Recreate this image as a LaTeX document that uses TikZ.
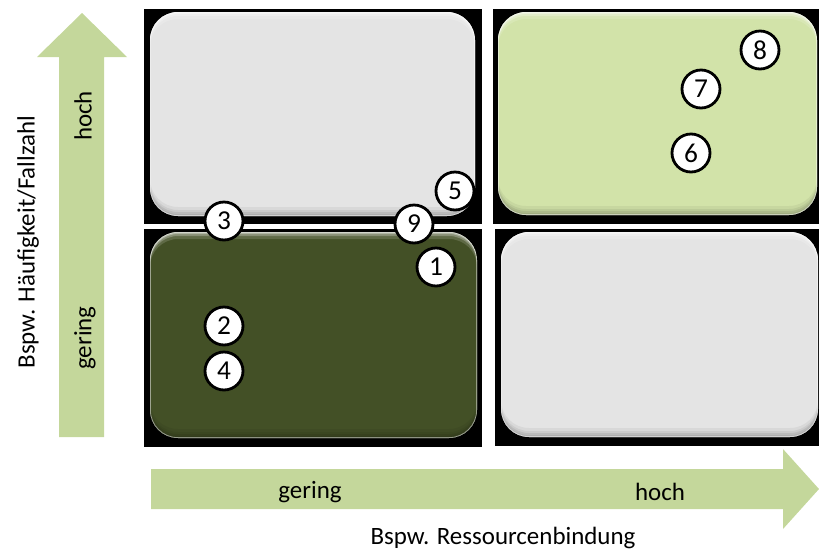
\documentclass[tikz,border=0pt]{standalone}
\usepackage{fontspec}
\setmainfont{Carlito}
\definecolor{arrowgreen}{HTML}{C4D79B}
\definecolor{lightgreen}{HTML}{D2E3A9}
\definecolor{darkgreen}{HTML}{435026}
\definecolor{lightgrey}{HTML}{E4E4E4}
\tikzset{rc/.style={rounded corners=21pt}}
\newcommand\bevband[7]{% x1 y1 x2 y2 shift colour opacity
  \fill[#6, opacity=#7, even odd rule, rc] (#1,#2) rectangle (#3,#4) (#1,#2+#5) rectangle (#3,#4+#5);}
\newcommand\bevbox[5]{%
  \fill[#5, rc] (#1,#2) rectangle (#3,#4);
  \begin{scope}
    \clip[rc] (#1,#2) rectangle (#3,#4);
    \bevband{#1}{#2}{#3}{#4}{-2}{black}{0.07}
    \bevband{#1}{#2}{#3}{#4}{-4}{black}{0.07}
    \bevband{#1}{#2}{#3}{#4}{-6}{black}{0.06}
    \bevband{#1}{#2}{#3}{#4}{-9}{black}{0.05}
    \bevband{#1}{#2}{#3}{#4}{2}{white}{0.35}
    \bevband{#1}{#2}{#3}{#4}{4}{white}{0.25}
    \bevband{#1}{#2}{#3}{#4}{7}{white}{0.15}
    \draw[white, opacity=0.45, line width=1.2pt, rc] (#1,#2) rectangle (#3,#4);
  \end{scope}}
\begin{document}
\begin{tikzpicture}[x=0.75pt,y=-0.75pt,
  blk/.style={fill=black},
  num/.style={circle, draw=black, line width=2.1pt, fill=white, minimum size=28.5pt, inner sep=0pt, font=\fontsize{20.5}{22}\selectfont},
  lbl/.style={inner sep=0pt, font=\fontsize{18.7}{22}\selectfont},
  arr/.style={fill=arrowgreen}]
\useasboundingbox (0,0) rectangle (819,551);
% black squares
\fill[blk] (144,9) rectangle (482,224);
\fill[blk] (493,9) rectangle (830,224);
\fill[blk] (144,229) rectangle (482,447);
\fill[blk] (495,229) rectangle (830,446);
% quadrant boxes
\bevbox{150}{12}{475}{216}{lightgrey}
\bevbox{498}{12}{817}{215}{lightgreen}
\bevbox{150}{232}{477}{438}{darkgreen}
\bevbox{501}{232}{818}{437}{lightgrey}
% arrows
\fill[arr] (82,13) -- (127,57) -- (104,57) -- (104,437) -- (59,437) -- (59,57) -- (37,57) -- cycle;
\fill[arr] (151,469) -- (783,469) -- (783,449) -- (819,489) -- (783,529) -- (783,509) -- (151,509) -- cycle;
% axis labels
\node[lbl] (xg) at (310,492) {gering};
\node[lbl] (xh) at (660,492) {hoch};
\node[lbl] (xt) at (503,538) {Bspw. Ressourcenbindung};
\node[lbl, rotate=90] (yh) at (83,116) {hoch};
\node[lbl, rotate=90] (yg) at (85,338) {gering};
\node[lbl, rotate=90] (yt) at (28,242) {Bspw. Häufigkeit/Fallzahl};
% numbered circles
\node[num] (n1) at (436,267) {1};
\node[num] (n2) at (224,326) {2};
\node[num] (n3) at (224,221) {3};
\node[num] (n4) at (224,371) {4};
\node[num] (n5) at (455,191) {5};
\node[num] (n6) at (691,153) {6};
\node[num] (n7) at (701,89) {7};
\node[num] (n8) at (760,50) {8};
\node[num] (n9) at (414,224) {9};
\end{tikzpicture}
\end{document}
